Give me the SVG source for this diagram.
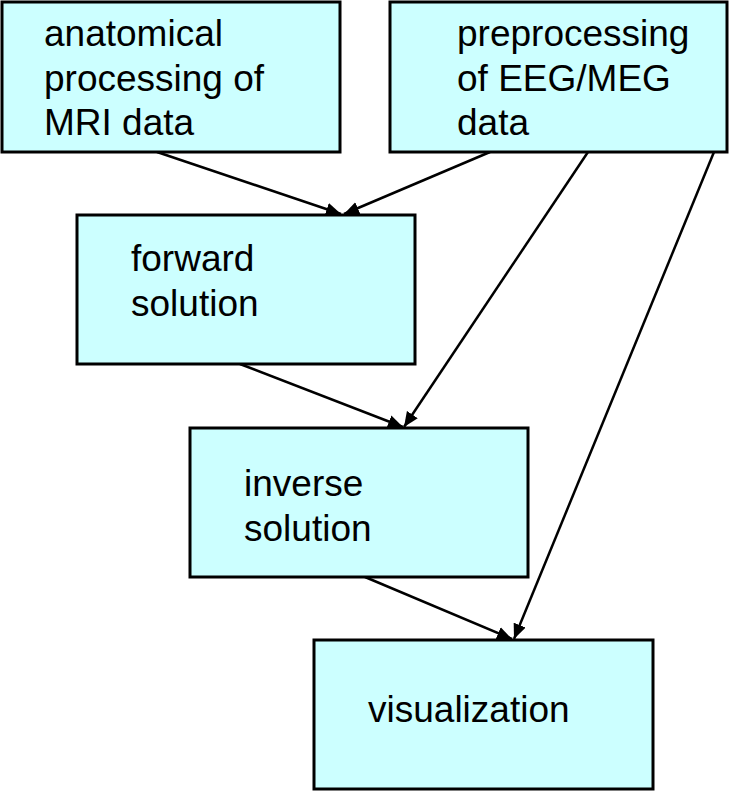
<svg xmlns="http://www.w3.org/2000/svg" width="740" height="792" viewBox="0 0 740 792">
<style>
.box{fill:#CCFFFF;stroke:#000;stroke-width:3}
.t{font-family:"Liberation Sans",Arial,sans-serif;font-size:37px;fill:#000}
.c{stroke:#000;stroke-width:2.5;fill:none;marker-end:url(#ah)}
</style>
<defs>
<marker id="ah" markerUnits="userSpaceOnUse" markerWidth="16" markerHeight="14" refX="15" refY="6.5" orient="auto" viewBox="0 0 16 13">
<path d="M0,0 L15,6.5 L0,13 Z" fill="#000"/>
</marker>
</defs>
<rect width="740" height="792" fill="#fff"/>
<g id="connectors">
<line class="c" x1="157" y1="152" x2="341" y2="214"/>
<line class="c" x1="490" y1="152" x2="344" y2="214"/>
<line class="c" x1="588" y1="152" x2="404" y2="427"/>
<line class="c" x1="714" y1="152" x2="514" y2="639"/>
<line class="c" x1="240" y1="364" x2="403" y2="427"/>
<line class="c" x1="365" y1="577" x2="512" y2="639"/>
</g>
<g id="anatomical">
<rect class="box" x="2" y="2" width="338" height="150"/>
<text class="t" x="44" y="46">anatomical</text>
<text class="t" x="44" y="91">processing of</text>
<text class="t" x="44" y="135">MRI data</text>
</g>
<g id="preprocessing">
<rect class="box" x="390" y="2" width="337" height="150"/>
<text class="t" x="457" y="46">preprocessing</text>
<text class="t" x="457" y="91">of EEG/MEG</text>
<text class="t" x="457" y="135">data</text>
</g>
<g id="forward">
<rect class="box" x="77" y="215" width="338" height="149"/>
<text class="t" x="131" y="271">forward</text>
<text class="t" x="131" y="316">solution</text>
</g>
<g id="inverse">
<rect class="box" x="190" y="428" width="338" height="149"/>
<text class="t" x="244" y="496">inverse</text>
<text class="t" x="244" y="541">solution</text>
</g>
<g id="visualization">
<rect class="box" x="314" y="640" width="339" height="149"/>
<text class="t" x="368" y="722">visualization</text>
</g>
</svg>
